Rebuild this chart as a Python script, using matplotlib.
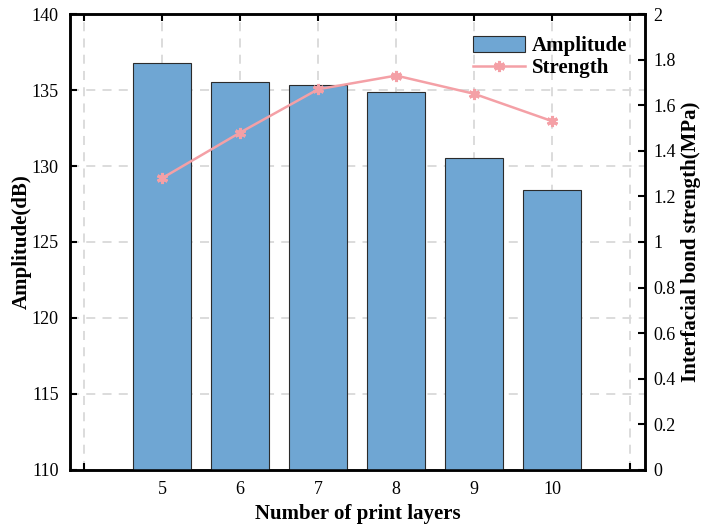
import matplotlib.pyplot as plt
import numpy as np
from matplotlib.ticker import FuncFormatter

plt.rcParams["font.family"] = ["Liberation Serif", "DejaVu Serif"]

layers = [5, 6, 7, 8, 9, 10]
amplitude = [136.8, 135.5, 135.3, 134.9, 130.5, 128.4]   # dB
strength = [1.28, 1.48, 1.67, 1.73, 1.65, 1.53]          # MPa

fig = plt.figure(figsize=(7.05, 5.25), dpi=100)
ax = fig.add_axes([0.0993, 0.1048, 0.8157, 0.8685])
ax2 = ax.twinx()

ax.bar(layers, [a - 110 for a in amplitude], bottom=110, width=0.75,
       color="#6FA6D3", edgecolor="#2b2b2b", linewidth=0.8, zorder=3,
       label="Amplitude")
ax2.plot(layers, strength, color="#F4A0A6", lw=1.8, marker=(6, 2, 0),
         ms=8, mew=2.2, mec="#F4A0A6", mfc="#F4A0A6", label="Strength", zorder=4)

ax.set_xlim(3.82, 11.19)
ax.set_ylim(110, 140)
ax2.set_ylim(0, 2)

ax.set_xticks(range(4, 12))
ax.set_xticklabels([""] + [str(v) for v in layers] + [""])
ax.set_yticks(np.arange(110, 141, 5))
ax2.set_yticks(np.arange(0, 2.01, 0.2))
ax2.yaxis.set_major_formatter(FuncFormatter(lambda v, p: f"{v:g}"))

ax.grid(True, color="#d9d9d9", linestyle=(0, (5, 4)), linewidth=1.3, zorder=0)
ax.set_axisbelow(True)

ax.tick_params(axis="both", direction="in", length=5, width=1.5,
               labelsize=13, top=True, pad=8)
ax2.tick_params(axis="y", direction="in", length=5, width=1.5, labelsize=13, pad=6)
for a in (ax, ax2):
    for s in a.spines.values():
        s.set_linewidth(1.8)

ax.set_xlabel("Number of print layers", fontsize=15, fontweight="bold", labelpad=4)
ax.set_ylabel("Amplitude(dB)", fontsize=15, fontweight="bold", labelpad=0)
ax2.set_ylabel("Interfacial bond strength(MPa)", fontsize=15, fontweight="bold", labelpad=4)

h1, l1 = ax.get_legend_handles_labels()
h2, l2 = ax2.get_legend_handles_labels()
ax2.legend(h1 + h2, l1 + l2, loc="upper right", bbox_to_anchor=(0.99, 0.98),
           frameon=False, prop={"weight": "bold", "size": 15},
           handlelength=2.5, handleheight=0.8, handletextpad=0.3,
           labelspacing=0.1, borderaxespad=0.2)

fig.savefig("out.png", dpi=100)
